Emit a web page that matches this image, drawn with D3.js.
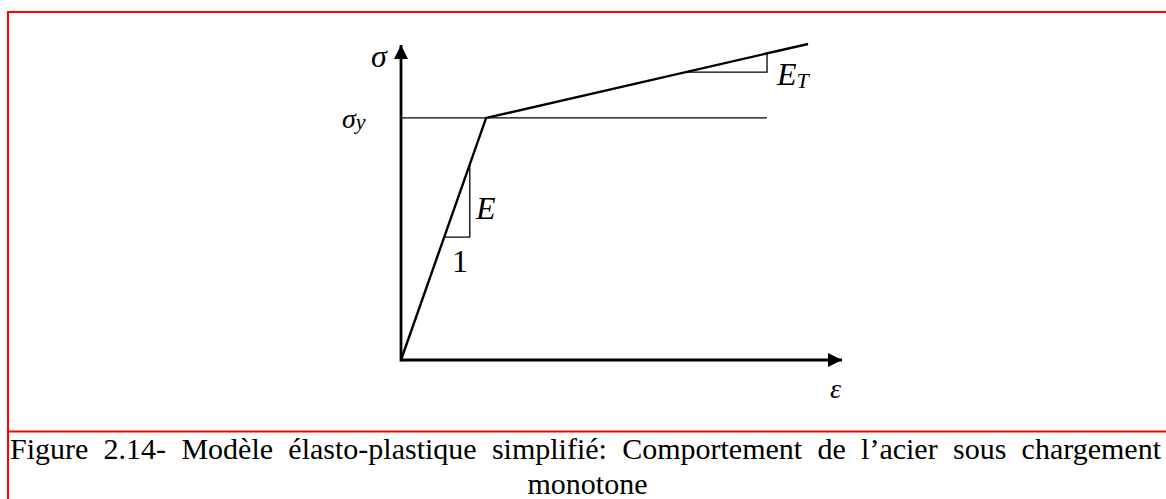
<!DOCTYPE html>
<html>
<head>
<meta charset="utf-8">
<script src="https://cdn.jsdelivr.net/npm/d3@7"></script>
<style>
  html, body { margin: 0; padding: 0; background: #fff; }
  svg { display: block; }
  text { font-family: "Liberation Serif", "Times New Roman", serif; fill: #000; }
</style>
</head>
<body>
<svg id="chart" width="1166" height="499"></svg>
<script>
// Bilinear stress–strain model (arbitrary units, 0–100 on each axis)
const strainPts = [0, 19.3, 92.3];      // origin, yield point, end of hardening branch
const stressPts = [0, 76.6, 100];
const yieldStress = 76.6;
const yieldLineEnd = 83;                 // strain where the σy reference line stops
// slope triangles: [strain, stress]
const elasticTri = [[9.8, 38.9], [15.6, 38.9], [15.6, 62.0]];
const tangentTri = [[64.6, 91.1], [83.0, 91.1], [83.0, 97.0]];
const axisMax = { strain: 100, stress: 99.7 };
const captionLines = [
  "Figure 2.14- Modèle élasto-plastique simplifié: Comportement de l’acier sous chargement",
  "monotone"
];

const svg = d3.select("#chart");

// frame of the figure cell
const red = "#ff0000";
svg.append("line").attr("x1", 7).attr("x2", 1166).attr("y1", 12).attr("y2", 12)
  .attr("stroke", red).attr("stroke-width", 2);
svg.append("line").attr("x1", 8).attr("x2", 8).attr("y1", 11).attr("y2", 499)
  .attr("stroke", red).attr("stroke-width", 2);
svg.append("line").attr("x1", 7).attr("x2", 1166).attr("y1", 431.5).attr("y2", 431.5)
  .attr("stroke", red).attr("stroke-width", 2);

const x = d3.scaleLinear().domain([0, 100]).range([401, 842]);
const y = d3.scaleLinear().domain([0, 100]).range([360, 44]);

// arrowheads
const defs = svg.append("defs");
defs.append("marker").attr("id", "arrow")
  .attr("viewBox", "0 0 10 10").attr("refX", 10).attr("refY", 5)
  .attr("markerWidth", 15).attr("markerHeight", 14)
  .attr("markerUnits", "userSpaceOnUse").attr("orient", "auto")
  .append("path").attr("d", "M0,0 L10,5 L0,10 Z").attr("fill", "#000");

// axes
svg.append("line")
  .attr("x1", x(0)).attr("y1", y(0)).attr("x2", x(axisMax.strain)).attr("y2", y(0))
  .attr("stroke", "#000").attr("stroke-width", 3).attr("marker-end", "url(#arrow)");
svg.append("line")
  .attr("x1", x(0)).attr("y1", y(0) + 1.5).attr("x2", x(0)).attr("y2", y(axisMax.stress))
  .attr("stroke", "#000").attr("stroke-width", 2.8).attr("marker-end", "url(#arrow)");

// yield stress reference line
svg.append("line")
  .attr("x1", x(0)).attr("x2", x(yieldLineEnd))
  .attr("y1", y(yieldStress)).attr("y2", y(yieldStress))
  .attr("stroke", "#000").attr("stroke-width", 1.3);

// slope triangles
const tri = d3.line().x(d => x(d[0])).y(d => y(d[1]));
[elasticTri, tangentTri].forEach(t => {
  svg.append("path").attr("d", tri(t)).attr("fill", "none")
    .attr("stroke", "#000").attr("stroke-width", 1.3);
});

// stress–strain curve
const curve = d3.line().x((d, i) => x(strainPts[i])).y((d, i) => y(stressPts[i]));
svg.append("path").datum(strainPts).attr("d", curve)
  .attr("fill", "none").attr("stroke", "#000").attr("stroke-width", 2.4)
  .attr("stroke-linejoin", "miter");

// labels
function label(px, py, parts) {
  const t = svg.append("text").attr("x", px).attr("y", py);
  parts.forEach(p => {
    const s = t.append("tspan").text(p.t).attr("font-size", p.size)
      .attr("font-style", p.italic ? "italic" : "normal");
    if (p.dy) s.attr("dy", p.dy);
  });
  return t;
}
label(371, 67, [{ t: "σ", size: 32, italic: true }]);
label(342, 128, [{ t: "σ", size: 28, italic: true }, { t: "y", size: 22, italic: true, dy: 1 }]);
label(777, 85, [{ t: "E", size: 32, italic: true }, { t: "T", size: 22, italic: true, dy: 3 }]);
label(476, 219, [{ t: "E", size: 32, italic: true }]);
label(452, 272, [{ t: "1", size: 32 }]);
label(830, 398, [{ t: "ε", size: 28, italic: true }]);

// caption: first line justified across the cell, last line centred
const capLeft = 10, capRight = 1161;
const caps = svg.selectAll("text.caption").data(captionLines).enter().append("text")
  .attr("class", "caption")
  .attr("font-size", 30)
  .attr("y", (d, i) => 459 + i * 35)
  .text(d => d);
caps.each(function (d, i) {
  const el = d3.select(this);
  if (i < captionLines.length - 1) {
    const natural = this.getComputedTextLength();
    const gaps = d.split(" ").length - 1;
    el.attr("x", capLeft).style("word-spacing", ((capRight - capLeft - natural) / gaps) + "px");
  } else {
    el.attr("x", (capLeft + capRight) / 2 + 2).attr("text-anchor", "middle");
  }
});
</script>
</body>
</html>
